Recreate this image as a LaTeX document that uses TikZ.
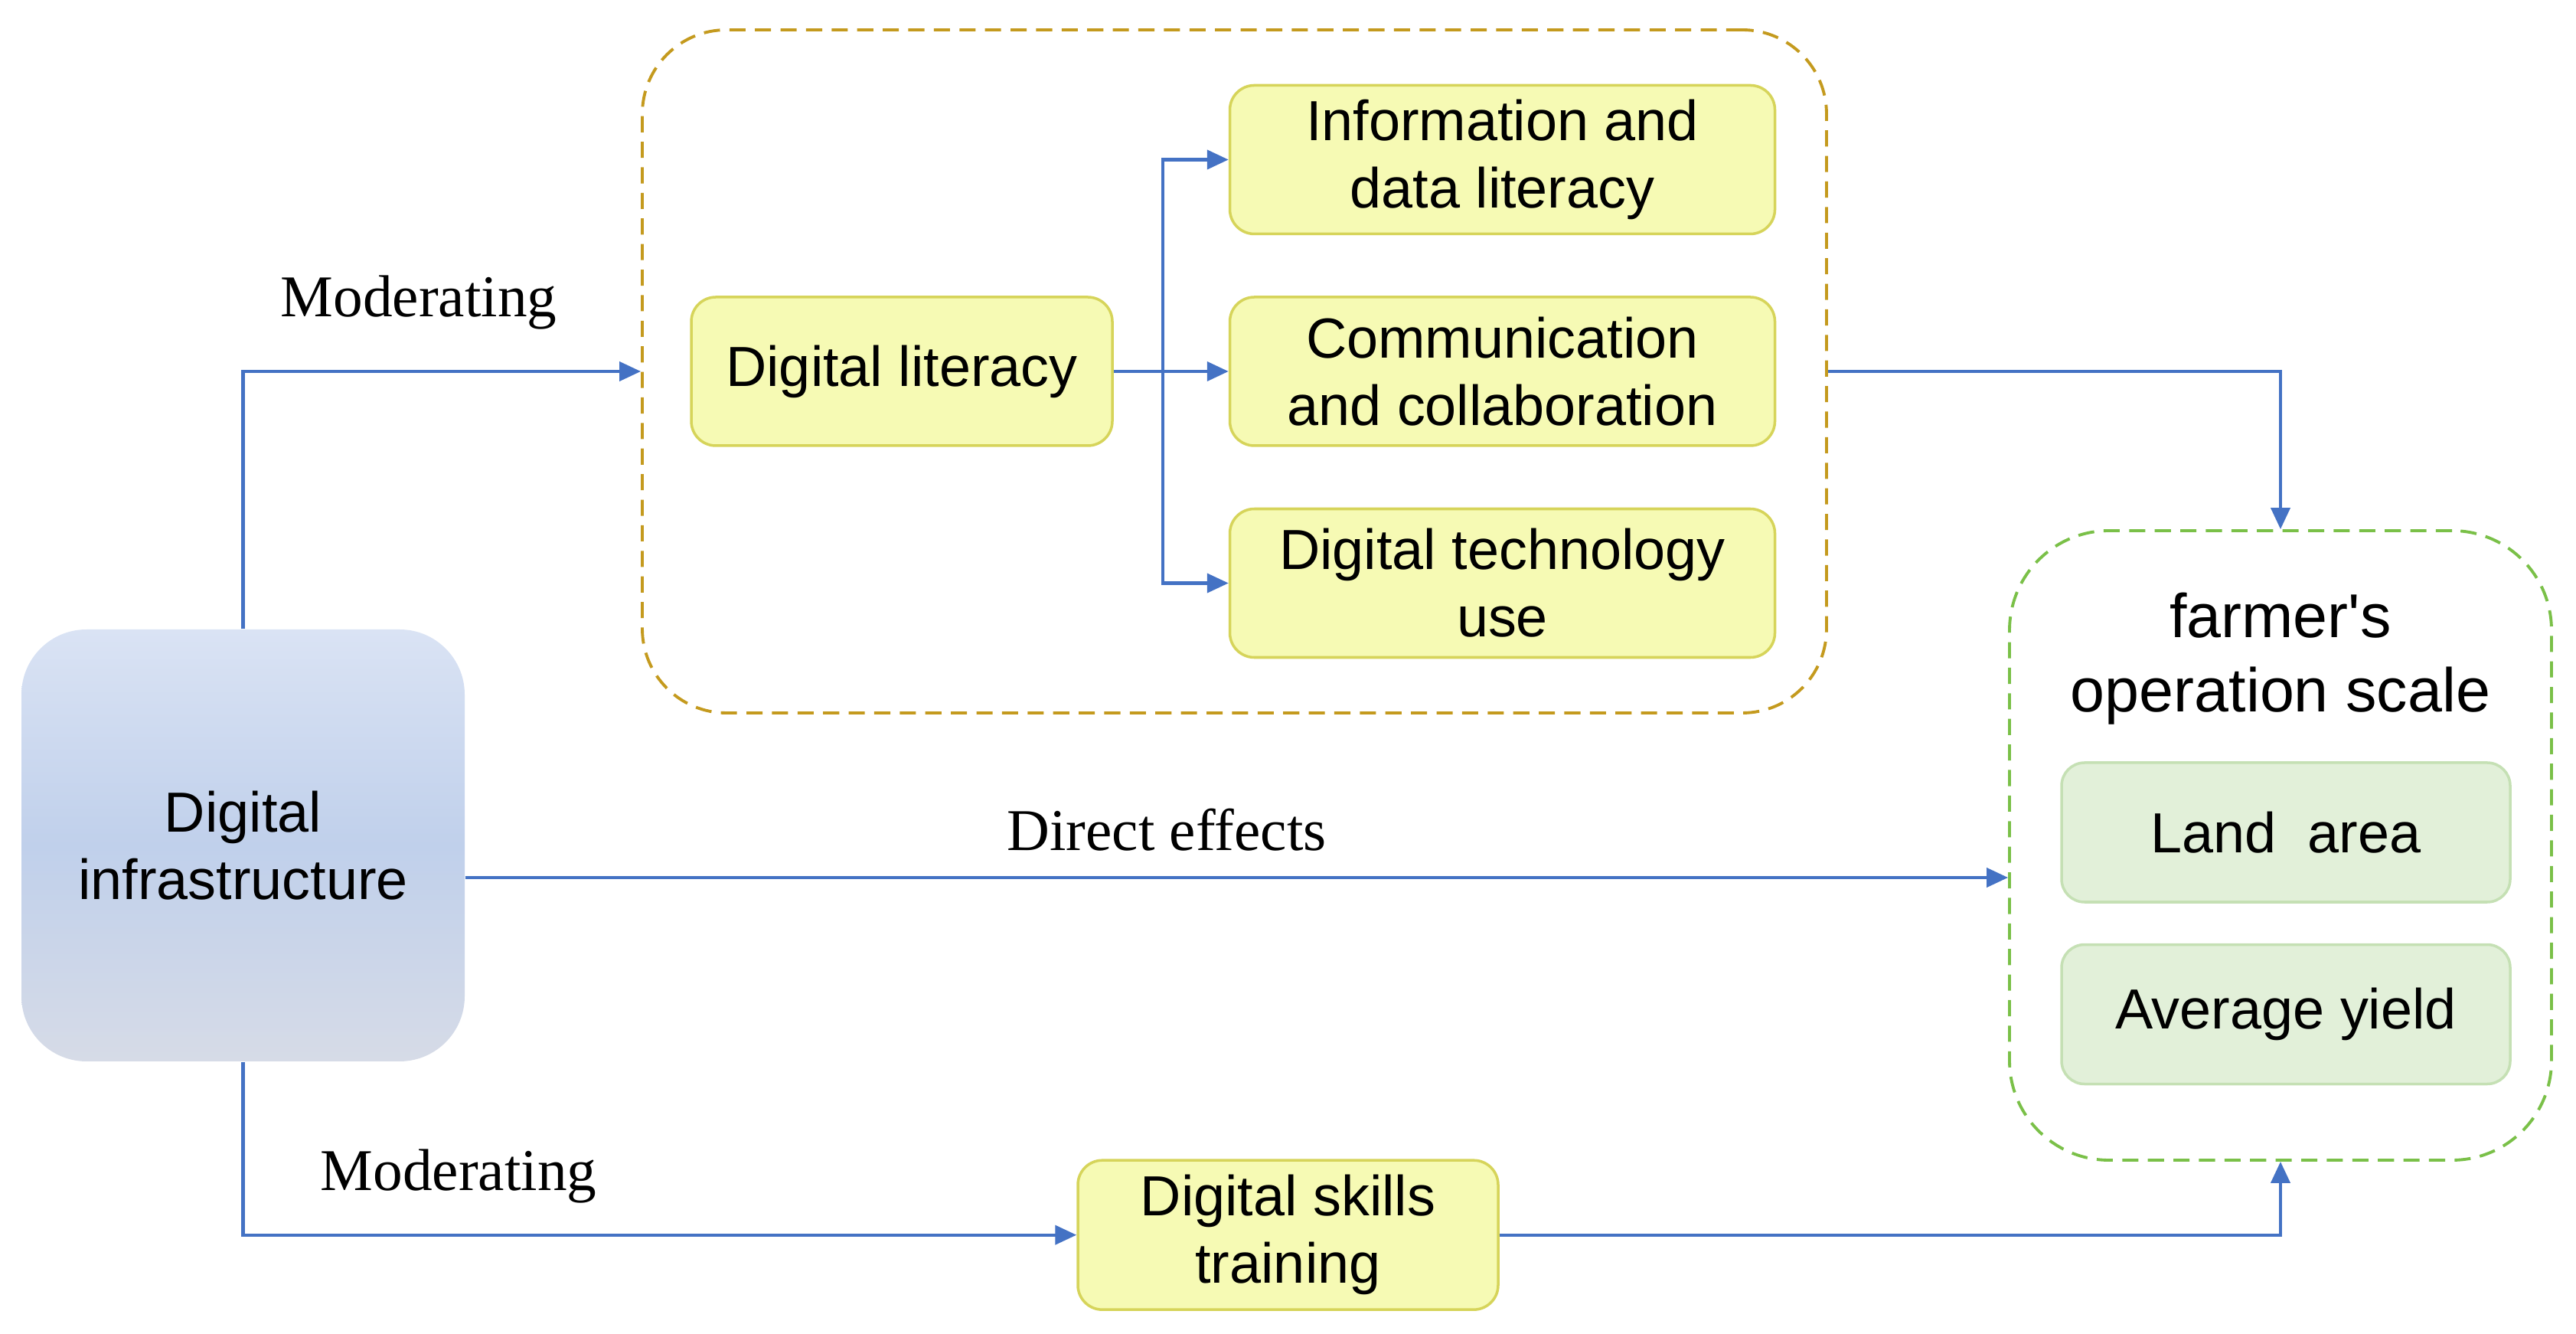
\documentclass[tikz,border=0pt]{standalone}
\usepackage{fontspec}
\setmainfont{Liberation Serif}
\setsansfont{Liberation Sans}
\usetikzlibrary{positioning, arrows.meta, calc}
\definecolor{arrBlue}{RGB}{68,114,196}
\definecolor{goldLine}{RGB}{196,154,30}
\definecolor{greenLine}{RGB}{122,192,72}
\definecolor{yelFill}{RGB}{246,250,180}
\definecolor{yelLine}{RGB}{214,212,90}
\definecolor{grnFill}{RGB}{226,240,217}
\definecolor{grnLine}{RGB}{197,224,180}
\definecolor{infTop}{RGB}{218,227,244}
\definecolor{infMid}{RGB}{192,208,235}
\definecolor{infBot}{RGB}{214,219,231}
\tikzset{
  infraBox/.style={rectangle, rounded corners=0.85cm, minimum width=5.79cm, minimum height=5.64cm, align=center, top color=infTop, bottom color=infBot, middle color=infMid, font=\sffamily\fontsize{21}{25}\selectfont},
  litBox/.style={rectangle, rounded corners=0.32cm, minimum width=5.5cm, minimum height=1.94cm, align=center, draw=yelLine, fill=yelFill, line width=1pt, font=\sffamily\fontsize{21}{25}\selectfont},
  dimBox/.style={litBox, minimum width=7.12cm},
  scaleBox/.style={rectangle, rounded corners=0.3cm, minimum width=5.86cm, minimum height=1.82cm, align=center, draw=grnLine, fill=grnFill, line width=1pt, font=\sffamily\fontsize{21}{25}\selectfont},
  groupBox/.style={rectangle, line width=1.1pt, dash pattern=on 6pt off 3.5pt},
  flowArr/.style={line width=1.2pt, draw=arrBlue, -{Triangle[length=0.28cm, width=0.25cm]}},
  flowLbl/.style={font=\rmfamily\fontsize{22}{26}\selectfont},
}
\begin{document}
\begin{tikzpicture}
\useasboundingbox (0,0) rectangle (33.65,-17.42);

% groups
\node (group) [groupBox, draw=goldLine, rounded corners=1.1cm, minimum width=15.47cm, minimum height=8.92cm] at (16.125,-4.85) {};
\node (farm) [groupBox, draw=greenLine, rounded corners=1.3cm, minimum width=7.08cm, minimum height=8.22cm] at (29.79,-11.04) {};

\node (infra) [infraBox] at (3.175,-11.04) {Digital\\infrastructure};

% digital literacy and its dimensions
\node (lit) [litBox] at (11.78,-4.85) {Digital literacy};
\node (comm) [dimBox, right=1.5cm of lit] {Communication\\and collaboration};
\node (info) [dimBox, above=0.79cm of comm] {Information and\\data literacy};
\node (dtu) [dimBox, below=0.79cm of comm] {Digital technology\\use};
\coordinate (split) at ($(lit.east)+(0.64,0)$);

\node (skills) [litBox, minimum width=5.49cm, minimum height=1.95cm] at (16.825,-16.127) {Digital skills\\training};

% operation scale
\node (farmLbl) [font=\sffamily\fontsize{23}{27.4}\selectfont, align=center] at (29.79,-8.6) {farmer\textquotesingle s\\operation scale};
\node (land) [scaleBox] at (29.86,-10.87) {Land\ \ area};
\node (yield) [scaleBox, below=0.52cm of land] {Average yield};

% labels
\node (modUp) [flowLbl] at (5.47,-3.95) {Moderating};
\node (modDown) [flowLbl] at (5.99,-15.36) {Moderating};
\node (direct) [flowLbl] at (15.24,-10.84) {Direct effects};

\draw [flowArr] (infra.north) |- (group.west);
\draw [flowArr] (infra.south) |- (skills.west);
\draw [flowArr] ([yshift=-0.42cm]infra.east) -- ([yshift=-0.42cm]farm.west);
\draw [flowArr] (lit.east) -- (split) |- (info.west);
\draw [flowArr] (split) -- (comm.west);
\draw [flowArr] (split) |- (dtu.west);
\draw [flowArr] (group.east) -| (farm.north);
\draw [flowArr] (skills.east) -| (farm.south);
\end{tikzpicture}
\end{document}
